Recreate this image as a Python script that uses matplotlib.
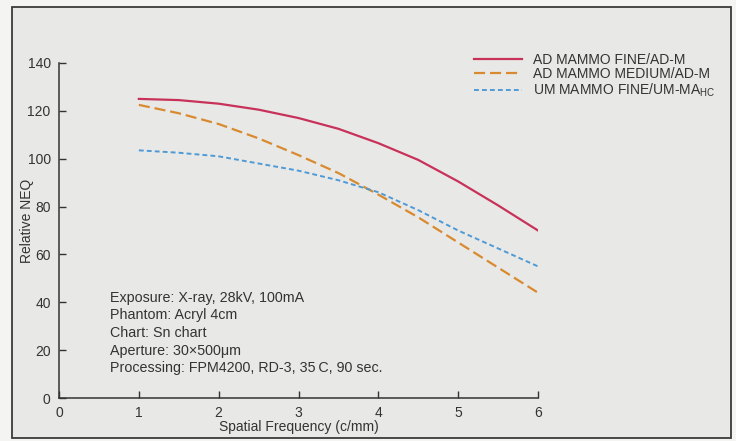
import matplotlib
matplotlib.use("Agg")
from matplotlib import pyplot as plt
from matplotlib.patches import Rectangle

# spatial frequency (c/mm) and relative NEQ
freq = [1, 1.5, 2, 2.5, 3, 3.5, 4, 4.5, 5, 5.5, 6]
ad_fine = [125, 124.5, 123, 120.5, 117, 112.5, 106.5, 99.5, 90.5, 80.5, 70]
ad_medium = [122.5, 119, 114.5, 108.5, 101.5, 94, 85, 75.5, 65, 54.5, 44]
um_fine = [103.5, 102.5, 101, 98, 95, 91, 86, 78.5, 70, 62.5, 55]

series_names = ["AD MAMMO FINE/AD-M", "AD MAMMO MEDIUM/AD-M", "UM MAMMO FINE/UM-MA$_{\\mathregular{HC}}$"]
x_ticks = [0, 1, 2, 3, 4, 5, 6]
y_ticks = [0, 20, 40, 60, 80, 100, 120, 140]
notes = ["Exposure: X-ray, 28kV, 100mA",
         "Phantom: Acryl 4cm",
         "Chart: Sn chart",
         "Aperture: 30\u00d7500\u03bcm",
         "Processing: FPM4200, RD-3, 35\u2009C, 90 sec."]

txt = "#333333"
fs = 10
plt.rcParams['font.family'] = ['Liberation Sans', 'DejaVu Sans']

fig = plt.figure(figsize=(7.36, 4.41), dpi=100)
fig.patch.set_facecolor("#f4f4f2")
fig.patches.append(Rectangle((12 / 736, 1 - 438 / 441), 719 / 736, 431 / 441,
                             transform=fig.transFigure, facecolor="#e8e9e6",
                             edgecolor="#3a3a3a", linewidth=1.3, zorder=-5))

ax = fig.add_axes([59 / 736, 1 - 398 / 441, 479 / 736, 335 / 441])
ax.patch.set_alpha(0)

ax.plot(freq, ad_fine, color="#c8325a", lw=1.6, label=series_names[0])
ax.plot(freq, ad_medium, color="#d98a30", lw=1.6, dashes=(5, 2.2), label=series_names[1])
ax.plot(freq, um_fine, color="#4f9ad6", lw=1.4, dashes=(2.5, 1.6), label=series_names[2])

ax.set_xlim(0, 6)
ax.set_ylim(0, 140)
ax.set_xticks(x_ticks)
ax.set_yticks(y_ticks)
for s in ["top", "right"]:
    ax.spines[s].set_visible(False)
for s in ["left", "bottom"]:
    ax.spines[s].set_color(txt)
    ax.spines[s].set_linewidth(1.1)
ax.tick_params(direction="in", length=5, width=1, colors=txt, labelsize=fs)
ax.tick_params(axis="x", pad=6)
ax.tick_params(axis="y", pad=6)

ax.set_xlabel("Spatial Frequency (c/mm)", fontsize=fs, color=txt, labelpad=0)
ax.set_ylabel("Relative NEQ", fontsize=fs, color=txt)
ax.yaxis.set_label_coords(-0.052, 0.528)

leg = ax.legend(loc="upper left", bbox_to_anchor=(461 / 736, 1 - 40 / 441),
                bbox_transform=fig.transFigure, frameon=False, fontsize=fs,
                handlelength=3.5, handletextpad=0.8, labelspacing=0.05)
for t in leg.get_texts():
    t.set_color(txt)

for i, line in enumerate(notes):
    fig.text(110 / 736, 1 - (298 + i * 17.5) / 441, line, fontsize=10.3,
             color=txt, va="center", ha="left")

fig.savefig("out.png", dpi=100, facecolor=fig.get_facecolor())
